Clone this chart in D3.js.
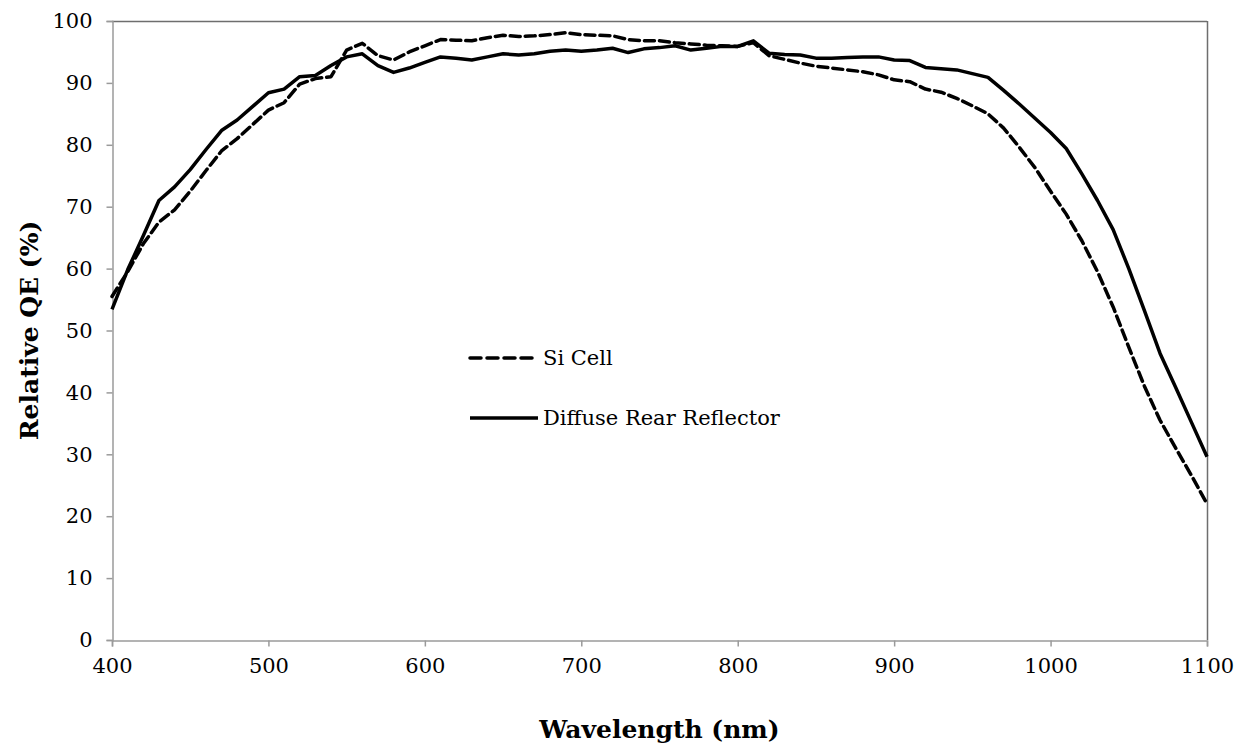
<!DOCTYPE html>
<html>
<head>
<meta charset="utf-8">
<script src="https://cdn.jsdelivr.net/npm/d3@7"></script>
<style>
  body { margin: 0; background: #fff; }
  text { font-family: "DejaVu Serif", "Liberation Serif", serif; fill: #000; }
</style>
</head>
<body>
<svg id="canvas"></svg>
<script>
var width = 1249,
	height = 747;

// wavelength (nm), every 10 nm
var wavelengths = d3.range(400, 1101, 10);

var siCell = [55.5, 59.5, 64, 67.5, 69.5, 72.5, 75.8, 79, 81, 83.3,
	85.6, 86.8, 89.8, 90.7, 91, 95.3, 96.4, 94.4, 93.7, 95,
	96, 97, 96.9, 96.8, 97.3, 97.7, 97.5, 97.6, 97.8, 98.1,
	97.8, 97.7, 97.6, 97, 96.8, 96.8, 96.5, 96.3, 96.1, 96,
	95.9, 96.5, 94.4, 93.8, 93.2, 92.7, 92.4, 92.1, 91.8, 91.3,
	90.5, 90.2, 89, 88.5, 87.5, 86.3, 85, 82.7, 79.6, 76.3,
	72.5, 68.8, 64.5, 59.5, 53.8, 47.3, 41, 35.5, 31, 26.6, 22];

var diffuse = [53.4, 59.8, 65.3, 71, 73.2, 76, 79.2, 82.3, 84, 86.2,
	88.4, 89, 91, 91.2, 92.8, 94.2, 94.7, 92.8, 91.7, 92.4,
	93.3, 94.2, 94, 93.7, 94.2, 94.7, 94.5, 94.7, 95.1, 95.3,
	95.1, 95.3, 95.6, 94.9, 95.5, 95.7, 96, 95.3, 95.6, 95.9,
	95.9, 96.8, 94.8, 94.6, 94.5, 94, 94, 94.1, 94.2, 94.2,
	93.7, 93.6, 92.5, 92.3, 92.1, 91.5, 90.9, 88.8, 86.6, 84.3,
	82, 79.4, 75.3, 71, 66.3, 60, 53.2, 46.3, 40.8, 35.2, 29.6];

var xTicks = [400, 500, 600, 700, 800, 900, 1000, 1100];
var yTicks = [0, 10, 20, 30, 40, 50, 60, 70, 80, 90, 100];

var seriesNames = ["Si Cell", "Diffuse Rear Reflector"];

var svg = d3.select("#canvas")
	.attr("width", width)
	.attr("height", height);

var plotL = 112, plotR = 1207, plotT = 21, plotB = 640;

var x = d3.scaleLinear().domain([400, 1100]).range([plotL, plotR]);
var y = d3.scaleLinear().domain([0, 100]).range([plotB, plotT]);

// plot frame (top / right)
svg.append("line")
	.attr("x1", plotL).attr("x2", plotR)
	.attr("y1", plotT + 0.5).attr("y2", plotT + 0.5)
	.attr("stroke", "#6e6e6e").attr("stroke-width", 1.5);
svg.append("line")
	.attr("x1", plotR + 0.5).attr("x2", plotR + 0.5)
	.attr("y1", plotT).attr("y2", plotB)
	.attr("stroke", "#6e6e6e").attr("stroke-width", 1.5);

var xAxis = svg.append("g")
	.attr("transform", "translate(0," + (plotB + 0.5) + ")")
	.call(d3.axisBottom(x).tickValues(xTicks).tickFormat(d3.format("d")).tickSize(6).tickPadding(12));

var yAxis = svg.append("g")
	.attr("transform", "translate(" + (plotL + 0.5) + ",0)")
	.call(d3.axisLeft(y).tickValues(yTicks).tickFormat(d3.format("d")).tickSize(6).tickPadding(14));

[xAxis, yAxis].forEach(function(g){
	g.select(".domain").attr("stroke", "#9a9a9a").attr("stroke-width", 1.5);
	g.selectAll(".tick line").attr("stroke", "#9a9a9a").attr("stroke-width", 1.5);
	g.selectAll(".tick text")
		.attr("font-family", "DejaVu Serif")
		.attr("font-size", 21)
		.attr("fill", "#000");
});

var line = d3.line()
	.x(function(d, i){ return x(wavelengths[i]); })
	.y(function(d){ return y(d); });

svg.append("path")
	.datum(diffuse)
	.attr("d", line)
	.attr("fill", "none")
	.attr("stroke", "#000")
	.attr("stroke-width", 3.5)
	.attr("stroke-linejoin", "round");

svg.append("path")
	.datum(siCell)
	.attr("d", line)
	.attr("fill", "none")
	.attr("stroke", "#000")
	.attr("stroke-width", 3.5)
	.attr("stroke-dasharray", "10,5")
	.attr("stroke-linecap", "round")
	.attr("stroke-linejoin", "round");

// legend
var legend = svg.append("g");
var legY = [358, 418];
seriesNames.forEach(function(name, i){
	legend.append("line")
		.attr("x1", 470).attr("x2", 538)
		.attr("y1", legY[i]).attr("y2", legY[i])
		.attr("stroke", "#000")
		.attr("stroke-width", 3.5)
		.attr("stroke-dasharray", i === 0 ? "11,6" : null)
		.attr("stroke-linecap", i === 0 ? "round" : "butt");
	legend.append("text")
		.attr("x", 543)
		.attr("y", legY[i])
		.attr("dy", "0.35em")
		.attr("font-size", 21)
		.text(name);
});

// axis titles
svg.append("text")
	.attr("x", (plotL + plotR) / 2)
	.attr("y", 738)
	.attr("text-anchor", "middle")
	.attr("font-size", 25)
	.attr("font-weight", "bold")
	.text("Wavelength (nm)");

svg.append("text")
	.attr("transform", "translate(38," + ((plotT + plotB) / 2) + ") rotate(-90)")
	.attr("text-anchor", "middle")
	.attr("font-size", 25)
	.attr("font-weight", "bold")
	.text("Relative QE (%)");
</script>
</body>
</html>
